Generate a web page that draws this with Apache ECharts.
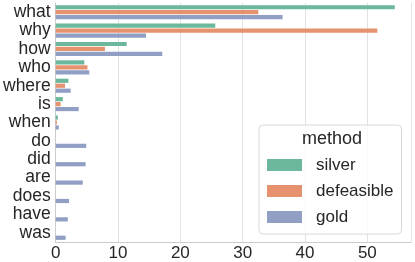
<!DOCTYPE html>
<html><head><meta charset="utf-8">
<script src="https://cdn.jsdelivr.net/npm/echarts@6/dist/echarts.min.js"></script>
<style>html,body{margin:0;padding:0;background:#fff}#c{width:415px;height:262px}</style>
</head><body><div id="c"></div>
<script>
const categories = ["what","why","how","who","where","is","when","do","did","are","does","have","was"];
const silver = [54.4,25.6,11.4,4.6,2.05,1.15,0.35,0,0,0,0,0,0];
const defeasible = [32.5,51.6,7.9,5.1,1.5,0.8,0.2,0,0,0,0,0,0];
const gold = [36.4,14.5,17.1,5.4,2.4,3.7,0.5,4.9,4.8,4.35,2.15,1.95,1.6];
const xTicks = [0,10,20,30,40,50];
const seriesNames = ["silver","defeasible","gold"];
const colors = ["#6cb89c","#e6926f","#929fc5"];

const chart = echarts.init(document.getElementById('c'), null, {renderer:'canvas'});
const font = "'Liberation Sans', Arial, sans-serif";
const mk = (name, data, i) => ({
  name, type:'bar', data, barWidth:4.2, barGap:'18%',
  itemStyle:{color:colors[i]}, silent:true
});
chart.setOption({
  animation:false,
  textStyle:{fontFamily:font},
  grid:{left:54.5, right:4, top:3, bottom:20, containLabel:false},
  xAxis:{type:'value', min:0, max:57, interval:10,
    axisLine:{show:true, lineStyle:{color:'#cccccc', width:1}},
    axisTick:{show:false},
    splitLine:{show:true, lineStyle:{color:'#e2e2e2', width:1}},
    axisLabel:{color:'#262626', fontSize:17, fontFamily:font, margin:3,
      formatter:v => xTicks.includes(v) ? String(v) : ''}
  },
  yAxis:{type:'category', data:categories, inverse:true,
    axisLine:{show:true, lineStyle:{color:'#cccccc', width:1}},
    axisTick:{show:false},
    splitLine:{show:false},
    axisLabel:{color:'#262626', fontSize:17.5, fontFamily:font, margin:5, interval:0}
  },
  legend:{show:true, orient:'vertical', left:259, top:125, width:144,
    data:seriesNames,
    backgroundColor:'rgba(255,255,255,0.8)', borderColor:'#d8d8d8', borderWidth:1, borderRadius:4,
    padding:[31,8,8,8], itemWidth:35, itemHeight:12, itemGap:8, icon:'rect',
    textStyle:{color:'#262626', fontSize:17, fontFamily:font, padding:[0,0,0,9], lineHeight:18}
  },
  graphic:[{type:'text', left:302, top:130, z:100,
    style:{text:'method', fill:'#262626', font:"18px 'Liberation Sans', Arial, sans-serif"}}],
  series:[mk(seriesNames[0], silver, 0), mk(seriesNames[1], defeasible, 1), mk(seriesNames[2], gold, 2)]
});
</script></body></html>
